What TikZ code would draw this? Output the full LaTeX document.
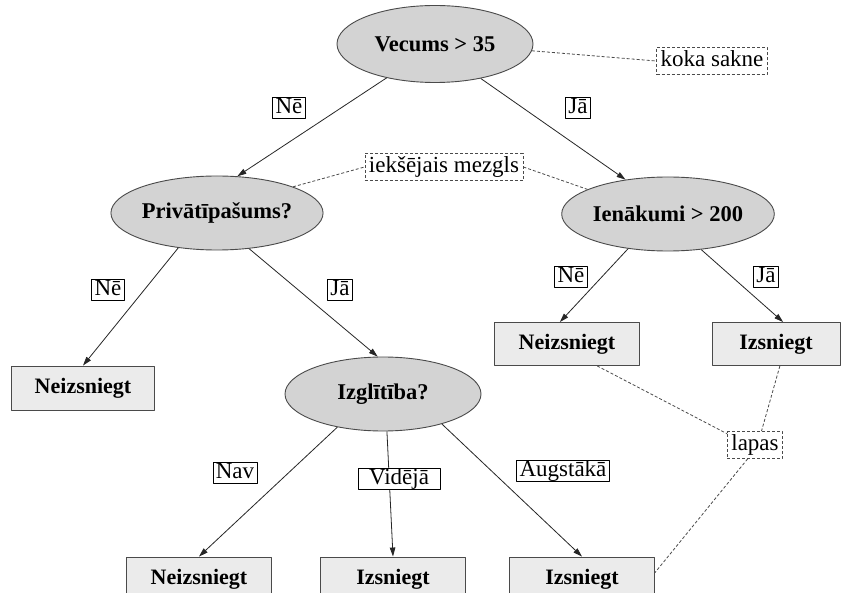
\documentclass[tikz,border=0pt]{standalone}
\usepackage{fontspec}
\setmainfont{Liberation Serif}
\usetikzlibrary{shapes.geometric,arrows.meta}
\definecolor{nodegray}{HTML}{D3D3D3}
\definecolor{leafgray}{HTML}{EBEBEB}
\definecolor{linegray}{HTML}{4A4A4A}
\begin{document}
\begin{tikzpicture}[x=1pt,y=-1pt,line join=round,>={Triangle[length=9pt,width=5.5pt]},
	test/.style={ellipse,draw=linegray,fill=nodegray,line width=0.9pt,minimum width=196pt,minimum height=74pt,inner sep=0pt,font=\fontsize{22.5}{24}\selectfont\bfseries},
	leaf/.style={rectangle,draw=linegray,fill=leafgray,line width=0.9pt,minimum width=145pt,minimum height=44pt,font=\fontsize{22}{24}\selectfont\bfseries},
	answer/.style={rectangle,draw=black,fill=white,line width=0.6pt,inner xsep=3pt,inner ysep=0.5pt,text height=15.5pt,text depth=4.5pt,font=\fontsize{23}{23}\selectfont},
	note/.style={rectangle,draw=linegray,dash pattern=on 3pt off 2pt,fill=white,line width=0.8pt,inner xsep=4pt,inner ysep=3.5pt,text height=15.5pt,text depth=4.5pt,font=\fontsize{23}{23}\selectfont},
	branch/.style={->,line width=0.8pt,black!85},
	hint/.style={dash pattern=on 3pt off 2pt,linegray,line width=0.8pt}]
	\clip (0,0) rectangle (843,593);
	\fill[white] (0,0) rectangle (843,593);
	% tests
	\node[test,minimum height=77pt] (vecums) at (435,44) {Vecums > 35};
	\node[test] (privat) at (217,213) {Privātīpašums?};
	\node[test,minimum width=200pt] (ienak) at (668,214) {Ienākumi > 200};
	\node[test] (izgl) at (383,394) {Izglītība?};
	% leaves
	\node[leaf,minimum width=143pt] (nL) at (83,388) {Neizsniegt};
	\node[leaf,minimum height=43pt] (nR) at (567,344) {Neizsniegt};
	\node[leaf,minimum width=128pt,minimum height=43pt] (iR) at (776,344) {Izsniegt};
	\node[leaf] (nB) at (199,579) {Neizsniegt};
	\node[leaf] (iB) at (393,579) {Izsniegt};
	\node[leaf] (iC) at (582,579) {Izsniegt};
	% branches
	\draw[branch] (vecums.215) -- (privat.61);
	\draw[branch] (vecums.-37) -- (ienak.141);
	\draw[branch] (privat.222) -- (nL.north);
	\draw[branch] (privat.-48) -- (izgl.98);
	\draw[branch] (ienak.221) -- (nR.108);
	\draw[branch] (ienak.-47) -- (iR.72);
	\draw[branch] (izgl.216) -- (nB.north);
	\draw[branch] (izgl.-84) -- (iB.north);
	\draw[branch] (izgl.-27) -- (iC.north);
	% answers
	\node[answer] (a1) at (289,108) {Nē};
	\node[answer] (a2) at (578,108) {Jā};
	\node[answer] (a3) at (108,290) {Nē};
	\node[answer] (a4) at (340,290) {Jā};
	\node[answer] (a5) at (571,277) {Nē};
	\node[answer] (a6) at (766,277) {Jā};
	\node[answer] (a7) at (235,473) {Nav};
	\node[answer,minimum width=82pt] (a8) at (399,479) {Vidējā};
	\node[answer] (a9) at (563,471) {Augstākā};
	% notes
	\node[note] (sakne) at (712,61) {koka sakne};
	\node[note] (mezgls) at (444,167) {iekšējais mezgls};
	\node[note] (lapas) at (755,445) {lapas};
	\draw[hint] (vecums.-4) -- (sakne.west);
	\draw[hint] (privat.19) -- (mezgls.west);
	\draw[hint] (mezgls.east) -- (ienak.163);
	\draw[hint] (nR.-36) -- (lapas.158);
	\draw[hint] (iR.-80) -- (lapas.65);
	\draw[hint] (lapas.242) -- (iC.5);
\end{tikzpicture}
\end{document}
